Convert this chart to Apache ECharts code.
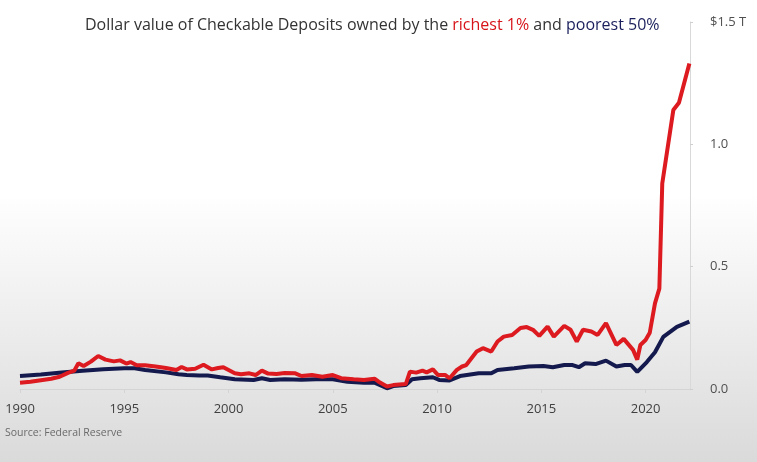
<!DOCTYPE html>
<html>
<head>
<meta charset="utf-8">
<script src="https://cdn.jsdelivr.net/npm/echarts@6/dist/echarts.min.js"></script>
<style>
html,body{margin:0;padding:0;background:#fff;}
#chart{width:757px;height:462px;}
</style>
</head>
<body>
<div id="chart"></div>
<script>
// Richest 1% (trillions USD), vertices
const richYears = [1990.0,1990.5,1991.0,1991.5,1991.9,1992.3,1992.6,1992.8,1993.05,1993.4,1993.75,1994.1,1994.5,1994.8,1995.1,1995.3,1995.6,1996.0,1996.5,1997.0,1997.5,1997.75,1998.0,1998.4,1998.8,1999.2,1999.5,1999.75,2000.3,2000.6,2001.0,2001.3,2001.6,2001.9,2002.3,2002.7,2003.2,2003.5,2004.0,2004.5,2005.0,2005.4,2006.0,2006.5,2007.0,2007.2,2007.6,2007.9,2008.5,2008.7,2009.0,2009.3,2009.5,2009.8,2010.05,2010.4,2010.6,2010.95,2011.2,2011.4,2011.9,2012.2,2012.6,2012.9,2013.2,2013.6,2014.0,2014.3,2014.6,2014.9,2015.3,2015.6,2016.1,2016.4,2016.7,2017.0,2017.4,2017.7,2018.1,2018.6,2018.95,2019.4,2019.6,2019.75,2020.0,2020.2,2020.45,2020.66,2020.8,2021.33,2021.6,2022.1];
const richValues = [0.026,0.030,0.036,0.042,0.050,0.066,0.075,0.105,0.094,0.112,0.135,0.120,0.113,0.117,0.104,0.110,0.097,0.097,0.092,0.086,0.078,0.090,0.080,0.083,0.099,0.080,0.086,0.089,0.064,0.060,0.064,0.057,0.075,0.063,0.061,0.065,0.064,0.053,0.057,0.050,0.057,0.044,0.040,0.037,0.042,0.030,0.010,0.016,0.020,0.071,0.067,0.075,0.068,0.080,0.057,0.057,0.044,0.078,0.092,0.098,0.153,0.167,0.153,0.194,0.214,0.221,0.249,0.253,0.242,0.217,0.255,0.214,0.258,0.242,0.194,0.242,0.235,0.221,0.269,0.180,0.205,0.160,0.120,0.180,0.200,0.230,0.350,0.410,0.840,1.140,1.170,1.330];

// Poorest 50% (trillions USD)
const poorYears = [1990.0,1991.0,1992.0,1993.0,1994.0,1995.0,1995.5,1996.0,1997.0,1997.6,1998.0,1998.6,1999.0,1999.6,2000.3,2001.2,2001.6,2002.0,2002.7,2003.5,2004.2,2005.0,2005.7,2006.5,2007.0,2007.6,2007.9,2008.5,2008.8,2009.2,2009.8,2010.1,2010.6,2011.1,2012.0,2012.6,2012.9,2013.7,2014.4,2015.1,2015.55,2016.1,2016.5,2016.8,2017.1,2017.6,2018.1,2018.6,2019.0,2019.3,2019.6,2020.06,2020.45,2020.85,2021.5,2022.1];
const poorValues = [0.053,0.059,0.067,0.075,0.081,0.085,0.085,0.078,0.068,0.060,0.057,0.055,0.055,0.048,0.040,0.037,0.044,0.037,0.040,0.038,0.040,0.040,0.030,0.026,0.026,0.003,0.012,0.016,0.040,0.044,0.048,0.037,0.035,0.053,0.064,0.064,0.078,0.085,0.092,0.094,0.089,0.098,0.098,0.089,0.105,0.102,0.116,0.092,0.098,0.098,0.070,0.110,0.150,0.213,0.254,0.275];

const yTicks = [0, 0.5, 1.0, 1.5];
const yTickLabels = ['0.0', '0.5', '1.0', '$1.5 T'];
const xTicks = [1990, 1995, 2000, 2005, 2010, 2015, 2020];

const chart = echarts.init(document.getElementById('chart'), null, {renderer: 'canvas'});
const FONT = '"Open Sans", "Liberation Sans", sans-serif';

chart.setOption({
  animation: false,
  backgroundColor: {
    type: 'linear', x: 0, y: 0, x2: 0, y2: 1,
    colorStops: [
      {offset: 0, color: '#ffffff'},
      {offset: 0.42, color: '#ffffff'},
      {offset: 1, color: '#dadada'}
    ]
  },
  title: {
    text: '{a|Dollar value of Checkable Deposits owned by the }{r|richest 1%}{a| and }{p|poorest 50%}',
    left: 80,
    top: 12,
    textStyle: {
      fontWeight: 'normal',
      rich: {
        a: {fontFamily: FONT, fontSize: 16, fontWeight: 'normal', color: '#333333'},
        r: {fontFamily: FONT, fontSize: 16, fontWeight: 'normal', color: '#d7141a'},
        p: {fontFamily: FONT, fontSize: 16, fontWeight: 'normal', color: '#1a1f5c'}
      }
    }
  },
  graphic: [{
    type: 'text',
    left: 5,
    top: 428,
    style: {text: 'Source: Federal Reserve', font: '10.5px ' + FONT, fill: '#6a6a6a'}
  }],
  grid: {left: 20, right: 67, top: 22, bottom: 73, containLabel: false},
  xAxis: {
    type: 'value',
    min: 1990,
    max: 2022.13,
    interval: 5,
    axisLine: {show: true, lineStyle: {color: '#d4d4d4', width: 1}},
    axisTick: {show: true, length: 4, lineStyle: {color: '#d4d4d4'}},
    splitLine: {show: false},
    axisLabel: {
      showMaxLabel: false,
      margin: 14,
      fontFamily: FONT, fontSize: 13, color: '#404040',
      formatter: v => xTicks.includes(v) ? String(v) : ''
    }
  },
  yAxis: {
    type: 'value',
    position: 'right',
    min: 0,
    max: 1.5,
    interval: 0.5,
    axisLine: {show: true, lineStyle: {color: '#d9d9d9', width: 1}},
    axisTick: {show: true, length: 3, inside: false, lineStyle: {color: '#cfcfcf'}},
    splitLine: {show: false},
    axisLabel: {
      margin: 20,
      fontFamily: FONT, fontSize: 13, color: '#505050',
      formatter: v => {
        const i = yTicks.findIndex(t => Math.abs(t - v) < 1e-9);
        return i >= 0 ? yTickLabels[i] : '';
      }
    }
  },
  series: [
    {
      name: 'poorest 50%',
      type: 'line',
      data: poorYears.map((y, i) => [y, poorValues[i]]),
      showSymbol: false,
      lineStyle: {color: '#141a4d', width: 4},
      itemStyle: {color: '#141a4d'},
      z: 2
    },
    {
      name: 'richest 1%',
      type: 'line',
      data: richYears.map((y, i) => [y, richValues[i]]),
      showSymbol: false,
      lineStyle: {color: '#dc1a1f', width: 4},
      itemStyle: {color: '#dc1a1f'},
      z: 3
    }
  ]
});
</script>
</body>
</html>
